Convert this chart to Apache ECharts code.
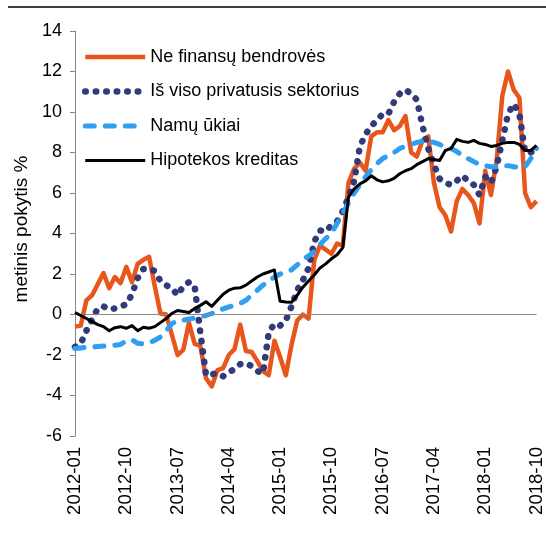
<!DOCTYPE html>
<html>
<head>
<meta charset="utf-8">
<script src="https://cdn.jsdelivr.net/npm/echarts@6/dist/echarts.min.js"></script>
<style>
  html, body { margin: 0; padding: 0; background: #fff; }
  #chart { width: 546px; height: 533px; }
</style>
</head>
<body>
<div id="chart"></div>
<script>
// monthly, 2012-01 .. 2018-10
const months = []
for (let y = 2012; y <= 2018; y++) {
  for (let m = 1; m <= 12; m++) {
    if (y === 2018 && m > 10) break
    months.push(y + '-' + String(m).padStart(2, '0'))
  }
}

const seriesNames = ['Ne finansų bendrovės', 'Iš viso privatusis sektorius', 'Namų ūkiai', 'Hipotekos kreditas']

const nonFinancial = [
  -0.6, -0.55, 0.7, 0.95, 1.5, 2.05, 1.3, 1.85, 1.55, 2.35,
  1.6, 2.5, 2.7, 2.85, 1.4, 0.05, 0.0, -1.0, -2.0, -1.75,
  -0.4, -1.45, -1.55, -3.15, -3.55, -2.75, -2.65, -2.0, -1.7, -0.5,
  -1.8, -1.85, -2.3, -2.8, -3.0, -1.3, -2.1, -3.0, -1.5, -0.3,
  0.0, -0.2, 2.7, 3.4, 3.2, 3.0, 3.5, 3.4, 6.5, 7.2,
  7.5, 7.1, 8.8, 9.0, 9.0, 9.6, 9.1, 9.3, 9.8, 8.0,
  7.8, 8.6, 8.8, 6.5, 5.3, 4.9, 4.1, 5.6, 6.2, 5.9,
  5.5, 4.5, 7.1, 5.9, 7.6, 10.8, 12.0, 11.1, 10.7, 6.0,
  5.3, 5.6
]

const privateTotal = [
  -1.6, -1.45, -0.8, -0.25, 0.3, 0.4, 0.25, 0.3, 0.4, 0.5,
  1.0, 1.8, 2.25, 2.25, 2.15, 1.65, 1.45, 1.3, 0.95, 1.4,
  1.6, 1.4, -0.9, -3.0, -2.95, -2.9, -3.05, -2.85, -2.7, -2.45,
  -2.4, -2.55, -2.8, -2.9, -0.9, -0.45, -0.55, -0.3, 0.4, 1.2,
  1.7, 2.3, 3.6, 4.15, 4.1, 4.4, 4.6, 5.1, 5.8, 6.6,
  8.3, 8.9, 9.3, 9.6, 9.9, 9.9, 10.5, 10.9, 11.1, 10.9,
  10.6, 9.3, 8.2, 7.4, 6.7, 6.5, 6.4, 6.6, 6.85, 6.6,
  6.4, 5.9, 6.8, 6.5, 7.3, 8.6, 9.9, 10.4, 9.9, 8.0,
  8.0, 8.2
]

const households = [
  -1.68, -1.65, -1.62, -1.6, -1.58, -1.56, -1.55, -1.52, -1.48, -1.3,
  -1.25, -1.42, -1.45, -1.4, -1.28, -1.1, -0.8, -0.45, -0.3, -0.28,
  -0.22, -0.18, -0.12, -0.05, 0.05, 0.15, 0.28, 0.38, 0.45, 0.55,
  0.7, 0.95, 1.2, 1.45, 1.65, 1.85, 2.0, 2.1, 2.2, 2.45,
  2.7, 2.9, 3.1, 3.45, 3.75, 4.0, 4.5, 5.0, 5.5, 6.0,
  6.4, 6.8, 7.15, 7.45, 7.7, 7.85, 8.0, 8.2, 8.3, 8.4,
  8.5, 8.55, 8.55, 8.5, 8.4, 8.25, 8.2, 8.05, 7.85, 7.7,
  7.55, 7.4, 7.35, 7.3, 7.3, 7.35, 7.35, 7.3, 7.25, 7.3,
  7.7, 8.2
]

const mortgage = [
  0.1, -0.05, -0.2, -0.35, -0.5, -0.6, -0.8, -0.65, -0.6, -0.68,
  -0.55, -0.8, -0.63, -0.68, -0.6, -0.4, -0.2, 0.05, 0.2, 0.15,
  0.1, 0.3, 0.45, 0.63, 0.4, 0.7, 1.0, 1.2, 1.3, 1.32,
  1.45, 1.65, 1.85, 2.0, 2.1, 2.2, 0.65, 0.62, 0.6, 0.95,
  1.35, 1.65, 1.95, 2.3, 2.5, 2.75, 2.95, 3.3, 5.8, 6.2,
  6.45, 6.6, 6.85, 6.65, 6.55, 6.6, 6.72, 6.95, 7.1, 7.2,
  7.4, 7.55, 7.7, 7.65, 7.6, 8.1, 8.2, 8.65, 8.55, 8.5,
  8.6, 8.45, 8.4, 8.3, 8.35, 8.45, 8.5, 8.5, 8.4, 8.1,
  8.1, 8.35
]

const yTicks = { min: -6, max: 14, interval: 2 }

const font = 'Liberation Sans, Arial, sans-serif'
const colors = ['#e8561c', '#333a7a', '#2f9ff2', '#000000']
const styles = [
  { color: colors[0], width: 4.5, join: 'round' },
  { color: colors[1], width: 6.5, type: [0.5, 10], cap: 'round', join: 'round' },
  { color: colors[2], width: 5, type: [9, 11], cap: 'round', join: 'round' },
  { color: colors[3], width: 3, join: 'round' }
]

const chart = echarts.init(document.getElementById('chart'), null, { renderer: 'canvas' })

chart.setOption({
  animation: false,
  backgroundColor: '#fff',
  textStyle: { fontFamily: font },
  graphic: [{
    type: 'line',
    shape: { x1: 8, y1: 7, x2: 546, y2: 7 },
    style: { stroke: '#000', lineWidth: 1.5 }
  }],
  grid: { left: 75, right: 7, top: 31, bottom: 97, containLabel: false },
  legend: {
    orient: 'vertical',
    left: 82,
    top: 48,
    padding: 0,
    itemWidth: 60,
    itemHeight: 16,
    itemGap: 16.5,
    itemStyle: { color: 'rgba(0,0,0,0)', borderWidth: 0, opacity: 0 },
    textStyle: { fontSize: 18, color: '#000', fontFamily: font },
    data: seriesNames.map((n, k) => ({ name: n, lineStyle: styles[k] }))
  },
  xAxis: {
    type: 'category',
    data: months,
    boundaryGap: false,
    axisLine: { show: false },
    axisTick: { show: false },
    splitLine: { show: false },
    axisLabel: {
      interval: 8,
      rotate: 90,
      fontSize: 18.5,
      color: '#000',
      margin: 11,
      fontFamily: font
    }
  },
  yAxis: {
    type: 'value',
    min: yTicks.min,
    max: yTicks.max,
    interval: yTicks.interval,
    name: 'metinis pokytis %',
    nameLocation: 'middle',
    nameGap: 38,
    nameTextStyle: { fontSize: 19, color: '#000', fontFamily: font, padding: [0, 0, 0, 9] },
    axisLine: { show: true, lineStyle: { color: '#868686', width: 1 } },
    axisTick: { show: true, length: 5, lineStyle: { color: '#868686' } },
    splitLine: { show: false },
    axisLabel: { fontSize: 18, color: '#000', margin: 13, fontFamily: font }
  },
  series: [
    {
      name: seriesNames[0],
      type: 'line',
      data: nonFinancial,
      symbol: 'none',
      z: 2,
      lineStyle: styles[0],
      itemStyle: { color: colors[0] },
      markLine: {
        silent: true,
        symbol: 'none',
        label: { show: false },
        lineStyle: { color: '#888', width: 1, type: 'solid' },
        data: [{ yAxis: 0 }]
      }
    },
    {
      name: seriesNames[1],
      type: 'line',
      data: privateTotal,
      symbol: 'none',
      z: 3,
      lineStyle: styles[1],
      itemStyle: { color: colors[1] }
    },
    {
      name: seriesNames[2],
      type: 'line',
      data: households,
      symbol: 'none',
      z: 4,
      lineStyle: styles[2],
      itemStyle: { color: colors[2] }
    },
    {
      name: seriesNames[3],
      type: 'line',
      data: mortgage,
      symbol: 'none',
      z: 5,
      lineStyle: styles[3],
      itemStyle: { color: colors[3] }
    }
  ]
})
</script>
</body>
</html>
